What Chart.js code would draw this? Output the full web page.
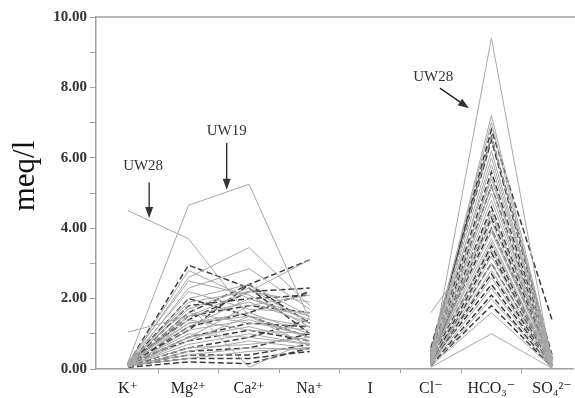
<!DOCTYPE html>
<html lang="en">
<head>
<meta charset="UTF-8">
<title>Schoeller diagram</title>
<script src="https://cdn.jsdelivr.net/npm/chart.js"></script>
<style>
    body { margin: 0; background: #fff; }
    #wrap { width: 575px; height: 398px; }
</style>
</head>
<body>
<div id="wrap"><canvas id="chart" width="575" height="398"></canvas></div>
<script>
    // ion order on the x axis ('I' is the empty gap between cations and anions)
    const ions = ['K\u207A', 'Mg\u00B2\u207A', 'Ca\u00B2\u207A', 'Na\u207A', 'I', 'Cl\u207B', 'HCO\u2083\u207B', 'SO\u2084\u00B2\u207B'];
    const yTicks = [0, 2, 4, 6, 8, 10];
    const yTitle = 'meq/l';

    // one entry per water sample, meq/l
    const sampleGroup = ['A','A','A','A','A','A','A','A','A','A','A','A','A','A','A','A','A','A','A','A','A','A','A','A','A','A','A','A',
                         'B','B','B','B','B','B','B','B','B','B','B','B','B','B','B'];
    const kVals    = [4.50,0.20,1.05,0.15,0.10,0.20,0.10,0.15,0.10,0.20,0.08,0.12,0.10,0.05,0.10,0.20,0.15,0.10,0.18,0.08,0.12,0.10,0.15,0.20,0.10,0.05,0.10,0.15,
                      0.15,0.10,0.20,0.10,0.05,0.12,0.10,0.15,0.08,0.10,0.20,0.10,0.05,0.15,0.10];
    const mgVals   = [3.70,4.65,1.50,2.60,2.30,2.50,2.00,1.80,1.50,1.30,1.10,0.90,0.70,0.50,0.40,2.20,1.90,1.60,1.20,0.80,1.00,0.60,1.40,1.70,0.30,0.90,1.30,2.80,
                      2.95,1.60,1.40,0.30,0.20,1.20,0.90,2.00,0.60,1.50,0.80,1.80,0.50,1.10,0.40];
    const caVals   = [1.50,5.25,2.20,3.45,2.85,2.10,2.40,0.05,1.90,1.60,1.40,1.20,1.00,0.80,0.60,1.70,2.20,1.30,2.00,1.50,0.90,0.70,1.10,2.30,0.50,1.80,1.50,2.00,
                      2.30,2.40,2.20,0.30,0.15,1.60,1.30,1.50,0.90,1.80,1.10,2.00,0.60,2.40,0.40];
    const naVals   = [0.90,1.40,3.10,1.80,1.70,1.20,1.50,0.80,1.30,1.00,0.90,0.80,0.70,0.60,0.55,1.60,1.90,1.10,1.40,1.20,0.70,0.90,1.00,1.30,0.60,2.10,0.65,1.50,
                      1.00,3.10,2.30,0.50,0.60,2.20,1.20,0.90,1.40,1.60,0.80,2.10,1.00,1.30,0.70];
    const clVals   = [0.20,0.30,1.60,0.40,0.50,0.30,0.20,0.10,0.30,0.20,0.15,0.10,0.10,0.05,0.05,0.40,0.50,0.30,0.25,0.20,0.15,0.10,0.30,0.45,0.10,0.20,0.30,0.35,
                      0.50,0.60,0.40,0.20,0.10,0.30,0.25,0.40,0.15,0.35,0.20,0.50,0.10,0.30,0.15];
    const hco3Vals = [9.40,5.50,4.00,7.20,7.00,6.00,5.20,3.00,4.50,4.20,3.60,3.20,2.60,2.00,1.00,6.60,5.80,4.80,3.90,3.40,2.80,2.30,5.00,6.20,1.60,4.40,3.70,5.40,
                      6.80,6.60,5.60,3.00,1.80,4.60,3.50,4.00,2.70,5.20,2.40,6.50,2.10,4.30,3.30];
    const so4Vals  = [0.10,0.20,0.20,0.30,0.20,0.30,0.10,0.05,0.20,0.15,0.10,0.10,0.05,0.05,0.02,0.30,0.35,0.20,0.15,0.10,0.10,0.05,0.20,0.25,0.05,0.40,0.10,0.30,
                      1.40,0.40,0.30,0.10,0.05,0.20,0.15,0.20,0.10,0.25,0.10,0.30,0.05,0.20,0.10];

    // labelled samples: [text, textX, textY, arrowFromX, arrowFromY, arrowToX, arrowToY] in data units
    const callouts = [
        ['UW28', 0.25, 5.77, 0.35, 5.30, 0.35, 4.29],
        ['UW19', 1.63, 6.76, 1.63, 6.42, 1.63, 5.09],
        ['UW28', 5.04, 8.30, 5.15, 7.98, 5.63, 7.41]
    ];

    const serif = "'Liberation Serif', 'DejaVu Serif', serif";

    const datasets = kVals.map((k, i) => {
        const vals = [k, mgVals[i], caVals[i], naVals[i], null, clVals[i], hco3Vals[i], so4Vals[i]];
        const dashed = sampleGroup[i] === 'B';
        return {
            data: vals.map((v, j) => ({ x: j, y: v })),
            borderColor: dashed ? '#3c3c3c' : '#a8a8a8',
            borderWidth: dashed ? 1.5 : 1,
            borderDash: dashed ? [6, 3] : [],
            pointRadius: 0,
            tension: 0,
            spanGaps: false,
            fill: false
        };
    });
    // solid lines underneath, dashed on top
    datasets.sort((a, b) => a.borderDash.length - b.borderDash.length);

    const extras = {
        id: 'extras',
        afterDraw(chart) {
            const ctx = chart.ctx;
            const xs = chart.scales.x, ys = chart.scales.y;
            const area = chart.chartArea;
            ctx.save();
            // frame line along the top
            ctx.strokeStyle = '#a0a0a0';
            ctx.lineWidth = 1.5;
            ctx.beginPath();
            ctx.moveTo(area.left, area.top);
            ctx.lineTo(chart.width, area.top);
            ctx.stroke();

            // y axis title, sits a bit above the middle like the original
            ctx.save();
            ctx.translate(26, 176);
            ctx.rotate(-Math.PI / 2);
            ctx.fillStyle = '#111';
            ctx.font = '31px ' + serif;
            ctx.textAlign = 'center';
            ctx.textBaseline = 'middle';
            ctx.fillText(yTitle, 0, 0);
            ctx.restore();

            ctx.fillStyle = '#333';
            ctx.strokeStyle = '#222';
            ctx.font = '15px ' + serif;
            ctx.textAlign = 'center';
            ctx.textBaseline = 'middle';
            callouts.forEach(c => {
                ctx.fillText(c[0], xs.getPixelForValue(c[1]), ys.getPixelForValue(c[2]));
                const x1 = xs.getPixelForValue(c[3]), y1 = ys.getPixelForValue(c[4]);
                const x2 = xs.getPixelForValue(c[5]), y2 = ys.getPixelForValue(c[6]);
                const ang = Math.atan2(y2 - y1, x2 - x1);
                ctx.lineWidth = 1.3;
                ctx.beginPath();
                ctx.moveTo(x1, y1);
                ctx.lineTo(x2 - 8 * Math.cos(ang), y2 - 8 * Math.sin(ang));
                ctx.stroke();
                ctx.beginPath();
                ctx.moveTo(x2, y2);
                ctx.lineTo(x2 - 11 * Math.cos(ang) + 4 * Math.sin(ang), y2 - 11 * Math.sin(ang) - 4 * Math.cos(ang));
                ctx.lineTo(x2 - 11 * Math.cos(ang) - 4 * Math.sin(ang), y2 - 11 * Math.sin(ang) + 4 * Math.cos(ang));
                ctx.closePath();
                ctx.fill();
            });
            ctx.restore();
        }
    };

    new Chart(document.getElementById('chart'), {
        type: 'line',
        data: { datasets: datasets },
        plugins: [extras],
        options: {
            responsive: false,
            animation: false,
            layout: { padding: { top: 17, right: 2, bottom: 0, left: 0 } },
            plugins: { legend: { display: false }, tooltip: { enabled: false } },
            scales: {
                x: {
                    type: 'linear',
                    min: -0.528,
                    max: 7.347,
                    afterBuildTicks(scale) {
                        const t = [];
                        for (let v = 0; v <= 7; v += 0.5) t.push({ value: v });
                        scale.ticks = t;
                    },
                    afterFit(scale) {
                        scale.height = 29;
                        // keep the last label from pulling the plot edge in
                        scale.paddingLeft = 0;
                        scale.paddingRight = 0;
                    },
                    border: { color: '#a0a0a0', width: 1.5 },
                    grid: {
                        drawOnChartArea: false,
                        tickLength: 4,
                        tickColor: ctx => (ctx.tick && Number.isInteger(ctx.tick.value)) ? 'rgba(0,0,0,0)' : '#a0a0a0'
                    },
                    ticks: {
                        autoSkip: false,
                        maxRotation: 0,
                        padding: 6,
                        color: '#222',
                        font: { family: serif, size: 16 },
                        callback: v => Number.isInteger(v) ? ions[v] : ''
                    }
                },
                y: {
                    min: 0,
                    max: 10,
                    afterBuildTicks(scale) {
                        const t = [];
                        for (let v = 0; v <= 10; v++) t.push({ value: v });
                        scale.ticks = t;
                    },
                    afterFit(scale) { scale.width = 96; },
                    border: { color: '#a0a0a0', width: 1.5 },
                    grid: { drawOnChartArea: false, tickLength: 6, tickColor: '#a0a0a0' },
                    ticks: {
                        padding: 3,
                        color: '#333',
                        font: { family: serif, size: 15, weight: 'bold' },
                        callback: v => yTicks.includes(v) ? v.toFixed(2) : ''
                    }
                }
            }
        }
    });
</script>
</body>
</html>
